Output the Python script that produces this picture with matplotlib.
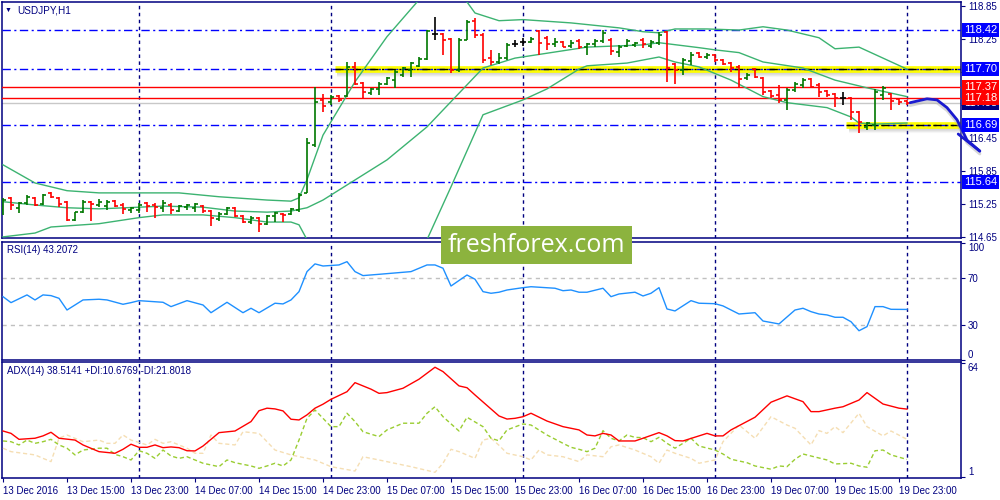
import matplotlib
matplotlib.use("Agg")
import matplotlib.pyplot as plt
from matplotlib.patches import Rectangle
import matplotlib.transforms as mtrans

plt.rcParams['font.family'] = ['Liberation Sans', 'DejaVu Sans']

## PRICE BARS (USDJPY H1, one value per bar)
opens = [115.14, 115.36, 115.18, 115.27, 115.36, 115.25, 115.45, 115.36, 115.29, 114.96,
         115.10, 115.29, 115.23, 115.21, 115.30, 115.23, 115.14, 115.14, 115.27, 115.23,
         115.18, 115.23, 115.12, 115.19, 115.18, 115.21, 115.12, 114.98, 115.07, 115.18,
         115.03, 114.92, 115.00, 114.89, 115.03, 115.07, 115.07, 115.14, 115.45, 116.32,
         117.14, 117.10, 117.21, 117.21, 117.74, 117.45, 117.27, 117.34, 117.43, 117.50,
         117.60, 117.69, 117.76, 117.89, 118.34, 118.34, 118.25, 117.69, 118.23, 118.58,
         118.32, 117.90, 117.83, 117.90, 118.16, 118.20, 118.20, 118.40, 118.27, 118.16,
         118.20, 118.12, 118.21, 118.10, 118.16, 118.21, 118.23, 118.01, 118.12, 118.14,
         118.23, 118.12, 118.18, 118.38, 117.80, 117.69, 117.85, 118.00, 117.92, 117.96,
         117.87, 117.81, 117.74, 117.54, 117.70, 117.54, 117.30, 117.23, 117.14, 117.32,
         117.41, 117.52, 117.41, 117.30, 117.25, 117.18, 117.18, 116.92, 116.65, 116.69,
         117.23, 117.25, 117.16, 117.12]
highs = [115.36, 115.38, 115.29, 115.41, 115.38, 115.43, 115.47, 115.38, 115.30, 115.10,
         115.32, 115.30, 115.34, 115.32, 115.32, 115.27, 115.19, 115.27, 115.29, 115.27,
         115.32, 115.27, 115.23, 115.25, 115.27, 115.23, 115.14, 115.10, 115.19, 115.19,
         115.05, 115.03, 115.01, 115.05, 115.10, 115.09, 115.18, 115.45, 116.45, 117.38,
         117.25, 117.23, 117.23, 117.83, 117.83, 117.47, 117.36, 117.47, 117.56, 117.69,
         117.74, 117.83, 117.92, 118.41, 118.65, 118.36, 118.27, 118.27, 118.60, 118.63,
         118.36, 118.05, 118.00, 118.18, 118.23, 118.27, 118.29, 118.41, 118.30, 118.27,
         118.21, 118.23, 118.25, 118.18, 118.25, 118.41, 118.27, 118.14, 118.25, 118.20,
         118.27, 118.23, 118.38, 118.40, 117.81, 117.90, 118.01, 118.01, 118.00, 117.98,
         117.89, 117.83, 117.78, 117.63, 117.72, 117.56, 117.32, 117.41, 117.36, 117.47,
         117.54, 117.54, 117.45, 117.32, 117.27, 117.29, 117.20, 116.94, 116.74, 117.34,
         117.40, 117.27, 117.18, 117.14]
lows = [115.05, 115.14, 115.09, 115.23, 115.21, 115.23, 115.36, 115.19, 114.94, 114.94,
        115.09, 114.94, 115.19, 115.14, 115.19, 115.07, 115.09, 115.09, 115.10, 115.00,
        115.10, 115.07, 115.10, 115.14, 115.10, 115.09, 114.85, 114.94, 115.05, 115.01,
        114.90, 114.89, 114.74, 114.87, 114.92, 114.92, 115.05, 115.10, 115.45, 116.29,
        116.92, 117.05, 117.10, 117.20, 117.41, 117.18, 117.23, 117.23, 117.41, 117.36,
        117.56, 117.56, 117.74, 117.87, 118.23, 117.96, 117.63, 117.65, 118.23, 118.27,
        117.81, 117.78, 117.80, 117.87, 118.10, 118.12, 118.18, 117.96, 118.05, 118.10,
        118.10, 118.09, 118.07, 117.96, 118.10, 118.18, 117.96, 117.92, 118.10, 118.10,
        118.09, 118.09, 118.14, 117.47, 117.43, 117.60, 117.78, 117.90, 117.89, 117.83,
        117.78, 117.65, 117.38, 117.50, 117.54, 117.23, 117.18, 117.09, 116.96, 117.29,
        117.36, 117.36, 117.20, 117.20, 117.01, 117.05, 116.78, 116.54, 116.60, 116.60,
        117.14, 116.96, 117.05, 117.05]
closes = [115.32, 115.23, 115.27, 115.38, 115.23, 115.41, 115.38, 115.25, 114.96, 115.10,
          115.29, 115.25, 115.29, 115.29, 115.21, 115.16, 115.18, 115.23, 115.21, 115.19,
          115.27, 115.14, 115.21, 115.23, 115.25, 115.12, 115.00, 115.07, 115.18, 115.03,
          114.92, 115.00, 114.89, 115.03, 115.09, 115.05, 115.16, 115.41, 116.36, 117.10,
          117.03, 117.20, 117.14, 117.74, 117.43, 117.29, 117.34, 117.43, 117.54, 117.65,
          117.72, 117.81, 117.89, 118.40, 118.34, 118.23, 117.69, 118.23, 118.56, 118.32,
          117.87, 117.83, 117.90, 118.14, 118.16, 118.20, 118.25, 118.18, 118.16, 118.20,
          118.10, 118.18, 118.10, 118.16, 118.21, 118.36, 118.03, 118.10, 118.21, 118.18,
          118.16, 118.20, 118.32, 117.72, 117.69, 117.87, 117.96, 117.92, 117.96, 117.87,
          117.80, 117.72, 117.52, 117.60, 117.56, 117.29, 117.21, 117.14, 117.32, 117.43,
          117.50, 117.38, 117.29, 117.23, 117.18, 117.18, 116.92, 116.74, 116.72, 117.29,
          117.36, 117.12, 117.10, 117.08]

## BOLLINGER BANDS (read at the bars listed)
bb_up_x = [0, 4, 8, 12, 17, 22, 27, 33, 36, 37, 38, 40, 44, 48, 52, 55, 58, 59, 62, 65,
           71, 77, 80, 82, 84, 88, 92, 95, 98, 102, 104, 107, 110, 113]
bb_up = [115.96, 115.63, 115.49, 115.45, 115.45, 115.45, 115.38, 115.32, 115.30, 115.36,
         115.69, 116.50, 117.47, 118.29, 118.96, 119.32, 118.92, 118.72, 118.58, 118.60,
         118.54, 118.45, 118.38, 118.36, 118.43, 118.43, 118.41, 118.47, 118.41, 118.27,
         118.07, 118.10, 117.90, 117.70]
bb_mid_x = [0, 4, 8, 12, 17, 20, 25, 29, 33, 36, 38, 40, 48, 53, 60, 64, 73, 80, 82, 87,
            89, 92, 95, 100, 104, 108, 113]
bb_mid = [115.29, 115.23, 115.18, 115.16, 115.19, 115.21, 115.19, 115.12, 115.10, 115.12,
          115.18, 115.32, 116.05, 116.65, 117.72, 117.90, 118.10, 118.14, 118.18, 118.09,
          118.05, 118.00, 117.83, 117.72, 117.50, 117.36, 117.20]
bb_low_x = [0, 4, 6, 12, 17, 20, 25, 29, 33, 36, 37, 38, 39, 52, 53, 56, 60, 65, 68, 72,
            73, 78, 82, 84, 87, 91, 95, 98, 103, 106, 107, 109, 113]
bb_low = [114.65, 114.72, 114.83, 114.89, 115.00, 115.05, 115.05, 115.00, 114.92, 114.92,
          114.87, 114.60, 114.32, 114.32, 114.60, 115.56, 116.87, 117.14, 117.34, 117.70,
          117.76, 117.81, 117.92, 117.83, 117.74, 117.50, 117.20, 117.09, 117.00, 116.83,
          116.72, 116.70, 116.72]

## LEVELS
blue_levels = [118.42, 117.70, 116.69, 115.64]
red_levels = [117.37, 117.18]
bid_price = 117.08
zone_prices = [117.70, 116.69]
zone_starts = [41.5, 105.4]
price_ticks = [118.85, 118.25, 117.65, 117.05, 116.45, 115.85, 115.25, 114.65]

## hand drawn forecast (bar, price)
arrow_x = [113.4, 114.6, 115.5, 116.75, 118.0, 119.25, 120.0, 120.5, 122.1]
arrow_y = [117.09, 117.13, 117.16, 117.14, 117.00, 116.78, 116.56, 116.41, 116.21]
head_x = [119.4, 122.1]
head_y = [116.52, 116.21]

## RSI(14)
rsi_x = [0, 1, 3, 4, 5, 6, 7, 8, 10, 12, 13, 15, 16, 17, 20, 21, 23, 25, 26, 28,
         30, 31, 32, 34, 35, 36, 37, 38, 39, 40, 42, 43, 44, 45, 47, 51, 53, 54, 55, 56,
         58, 59, 60, 61, 62, 63, 65, 66, 69, 70, 71, 72, 73, 75, 76, 77, 79, 80, 81, 82,
         83, 84, 86, 87, 89, 90, 92, 94, 95, 97, 99, 100, 101, 102, 103, 104, 105, 106, 107, 108,
         109, 110, 111, 113]
rsi = [54.1, 49.0, 55.6, 51.3, 55.6, 55.0, 52.7, 42.7, 51.3, 51.9,
       51.3, 47.6, 49.0, 50.7, 49.3, 45.6, 50.7, 47.0, 40.4, 49.3,
       40.4, 44.2, 40.4, 48.5, 47.9, 51.3, 58.4, 75.5, 82.1, 80.3,
       81.2, 84.0, 75.5, 72.1, 73.2, 75.5, 81.2, 81.2, 78.4, 63.2,
       72.6, 69.0, 58.4, 57.0, 57.9, 59.8, 61.8, 62.6, 61.3, 59.2,
       59.8, 57.9, 57.9, 61.3, 54.1, 56.4, 57.9, 54.7, 57.0, 61.8,
       43.6, 41.9, 50.7, 48.5, 48.1, 46.2, 39.3, 40.4, 33.3, 30.8,
       42.7, 44.2, 41.3, 39.3, 38.5, 36.5, 36.5, 32.7, 25.0, 28.5,
       45.6, 45.6, 43.3, 43.2]

## ADX(14), +DI, -DI
adx_x = [0, 1, 2, 4, 5, 6, 7, 9, 10, 12, 14, 15, 16, 17, 18, 19, 20, 21, 22, 23,
         24, 25, 27, 29, 31, 32, 33, 34, 35, 36, 37, 38, 39, 40, 41, 43, 44, 46, 47, 48,
         50, 52, 54, 55, 57, 58, 59, 62, 63, 64, 65, 66, 68, 70, 72, 73, 74, 75, 76, 77,
         79, 80, 82, 83, 84, 85, 87, 88, 89, 90, 91, 94, 96, 98, 100, 101, 102, 104, 105, 107,
         108, 110, 112, 113]
adx = [26.4, 25.1, 21.8, 22.4, 23.7, 25.7, 22.4, 21.4, 18.7, 15.0,
       14.1, 16.3, 19.1, 17.4, 17.4, 18.7, 17.2, 17.6, 17.2, 15.5,
       15.4, 18.1, 25.5, 26.4, 31.6, 37.6, 39.0, 38.6, 37.5, 32.9,
       32.5, 35.3, 39.0, 41.2, 43.9, 48.1, 53.1, 49.5, 47.2, 47.6,
       50.0, 55.0, 61.6, 59.2, 51.3, 50.3, 46.3, 34.7, 33.0, 33.4,
       34.3, 36.2, 31.9, 28.8, 27.0, 24.2, 23.7, 25.1, 24.2, 20.9,
       20.9, 22.4, 25.5, 23.7, 21.1, 20.9, 23.7, 25.1, 23.7, 23.7,
       27.0, 34.0, 42.3, 45.8, 42.6, 37.1, 37.1, 39.0, 39.8, 43.5,
       47.6, 41.3, 39.0, 38.5]
pdi_x = [0, 1, 2, 3, 4, 5, 6, 7, 8, 9, 10, 12, 13, 14, 15, 16, 17, 18, 19, 20,
         21, 22, 23, 24, 25, 27, 28, 29, 31, 32, 33, 34, 35, 36, 37, 38, 39, 40, 41, 42,
         43, 44, 45, 47, 48, 50, 52, 53, 54, 55, 57, 58, 60, 61, 62, 63, 65, 66, 68, 70,
         71, 72, 73, 74, 75, 76, 77, 78, 79, 80, 81, 82, 83, 84, 85, 86, 87, 89, 90, 91,
         93, 94, 96, 97, 98, 99, 100, 101, 103, 104, 106, 107, 108, 109, 110, 111, 113]
pdi = [20.9, 20.5, 18.7, 21.4, 19.6, 20.5, 21.8, 18.7, 16.9, 13.2,
       15.9, 16.9, 16.9, 13.5, 12.2, 10.4, 15.5, 14.1, 11.3, 15.9,
       12.6, 11.3, 12.2, 10.4, 8.6, 6.7, 10.4, 8.9, 7.1, 5.8,
       7.1, 8.6, 7.1, 10.4, 21.4, 33.4, 38.0, 33.4, 28.8, 28.8,
       36.2, 31.6, 26.0, 23.3, 27.0, 30.7, 30.7, 36.2, 39.8, 34.3,
       26.4, 34.0, 28.8, 22.4, 21.0, 27.0, 30.3, 29.7, 24.2, 19.6,
       17.4, 16.3, 15.0, 16.9, 26.6, 22.4, 20.9, 24.2, 22.9, 22.7,
       20.5, 22.9, 19.6, 16.9, 19.6, 22.4, 18.1, 15.9, 13.7, 10.8,
       8.9, 7.1, 5.3, 7.1, 6.7, 10.8, 13.7, 12.6, 10.4, 8.2,
       8.6, 7.1, 6.4, 15.5, 15.9, 13.2, 10.7]
mdi_x = [0, 1, 4, 5, 6, 7, 8, 10, 12, 13, 14, 15, 16, 18, 19, 20, 21, 23, 24, 25,
         26, 27, 29, 30, 32, 34, 36, 39, 41, 44, 45, 47, 51, 54, 55, 56, 57, 59, 60, 61,
         62, 63, 65, 66, 67, 68, 70, 72, 73, 75, 76, 77, 79, 81, 82, 83, 84, 86, 87, 89,
         90, 92, 94, 96, 98, 99, 101, 102, 103, 104, 105, 107, 108, 110, 111, 113]
mdi = [16.9, 15.0, 13.2, 11.3, 9.5, 22.4, 24.2, 20.5, 21.4, 19.6,
       19.6, 24.2, 21.4, 18.7, 21.8, 19.6, 20.5, 16.9, 14.1, 14.1,
       24.2, 19.6, 18.7, 26.0, 25.1, 15.9, 13.2, 10.4, 6.7, 4.3,
       12.2, 10.4, 6.7, 3.6, 8.6, 16.3, 15.0, 11.3, 21.4, 22.4,
       18.5, 14.1, 12.2, 10.4, 15.9, 13.2, 12.2, 9.5, 13.2, 12.2,
       17.7, 18.7, 15.9, 12.2, 8.6, 15.9, 14.1, 11.3, 8.6, 10.4,
       20.5, 29.7, 22.4, 34.3, 29.7, 27.9, 18.7, 26.6, 25.1, 28.8,
       25.5, 36.2, 28.8, 23.7, 26.4, 21.8]

time_labels = ["13 Dec 2016", "13 Dec 15:00", "13 Dec 23:00", "14 Dec 07:00", "14 Dec 15:00",
               "14 Dec 23:00", "15 Dec 07:00", "15 Dec 15:00", "15 Dec 23:00", "16 Dec 07:00",
               "16 Dec 15:00", "16 Dec 23:00", "19 Dec 07:00", "19 Dec 15:00", "19 Dec 23:00"]

NAVY = '#000080'
BB_GREEN = '#3cb371'
XMIN, XMAX = -0.125, 119.75

fig = plt.figure(figsize=(10, 5), dpi=100)
fig.patch.set_facecolor('white')
ax = fig.add_axes([0.002, 0.524, 0.959, 0.472])
ax_rsi = fig.add_axes([0.002, 0.28, 0.959, 0.236])
ax_adx = fig.add_axes([0.002, 0.044, 0.959, 0.232])

for a in (ax, ax_rsi, ax_adx):
    a.set_xlim(XMIN, XMAX)
    for s in a.spines.values():
        s.set_color(NAVY)
        s.set_linewidth(1.1)
    a.yaxis.tick_right()
    a.tick_params(axis='y', direction='out', length=3, color=NAVY, labelcolor=NAVY,
                  labelsize=7, pad=2, width=0.8)
    a.tick_params(axis='x', length=0)
    a.set_xticks([])
    # vertical grid every 24 bars
    for g in range(17, 114, 24):
        a.axvline(g, color=NAVY, lw=1, ls=(0, (2.5, 2.5)), zorder=1)

## MAIN PRICE PANEL
ax.set_ylim(114.63, 118.92)
ax.set_yticks(price_ticks)
ax.set_yticklabels(["%.2f" % p for p in price_ticks])

for lv in blue_levels:
    ax.axhline(lv, color='#0000ff', lw=1, ls=(0, (6, 2.5, 1.5, 2.5)), zorder=3)
ax.axhline(bid_price, color='#c8c8c8', lw=1, zorder=2)
for lv in red_levels:
    ax.axhline(lv, color='#ff0000', lw=1, zorder=3)

# yellow zones with a soft shadow under them
for zp, zs in zip(zone_prices, zone_starts):
    for k in range(5):
        ax.plot([zs + 0.3, XMAX], [zp - 0.06 - k * 0.018] * 2, color='#808080',
                alpha=0.22 - k * 0.04, lw=1.5, solid_capstyle='butt', zorder=1.5)
    ax.plot([zs, XMAX], [zp, zp], color='#ffff00', lw=4.8, solid_capstyle='butt', zorder=2)
    ax.plot([zs, XMAX], [zp, zp], color='#000000', lw=1, ls=(0, (6, 2.5, 1.5, 2.5)), zorder=3.1)

ax.plot(bb_up_x, bb_up, color=BB_GREEN, lw=1, zorder=4)
ax.plot(bb_mid_x, bb_mid, color=BB_GREEN, lw=1, zorder=4)
ax.plot(bb_low_x, bb_low, color=BB_GREEN, lw=1, zorder=4)

for i in range(len(opens)):
    if closes[i] > opens[i]:
        col = '#007800'
    elif closes[i] < opens[i]:
        col = '#ff0000'
    else:
        col = '#000000'
    ax.vlines(i, lows[i], highs[i], color=col, lw=1.2, zorder=5)
    ax.hlines(opens[i], i - 0.38, i, color=col, lw=1.2, zorder=5)
    ax.hlines(closes[i], i, i + 0.38, color=col, lw=1.2, zorder=5)

# blue forecast arrow
ax.plot(arrow_x, [y - 0.05 for y in arrow_y], color='#b0b0b0', lw=2.2, alpha=0.5,
        clip_on=False, zorder=9, solid_capstyle='round')
ax.plot(arrow_x, arrow_y, color='#1a1ad0', lw=2, clip_on=False, zorder=10,
        solid_capstyle='round')
ax.plot(head_x, head_y, color='#1a1ad0', lw=2, clip_on=False, zorder=10,
        solid_capstyle='round')

# price boxes on the right scale
tr = mtrans.blended_transform_factory(ax.transAxes, ax.transData)
boxes = [(bid_price, NAVY), (118.42, '#0000ff'), (117.70, '#0000ff'), (116.69, '#0000ff'),
         (115.64, '#0000ff'), (117.37, '#ff0000'), (117.18, '#ff0000')]
for p, c in boxes:
    ax.text(1.003, p, "%.2f" % p, transform=tr, color='white', fontsize=8,
            va='center', ha='left', clip_on=False, zorder=20,
            bbox=dict(boxstyle='square,pad=0.18', fc=c, ec='none'))

fig.text(0.0045, 0.979, u"\u25bc", color=NAVY, fontsize=5, va='center')
fig.text(0.017, 0.979, "USDJPY,H1", color=NAVY, fontsize=7.2, va='center')

## RSI PANEL
ax_rsi.set_ylim(0, 100.8)
ax_rsi.axhline(70, color='#c0c0c0', lw=1, ls=(0, (3, 3)), zorder=1)
ax_rsi.axhline(30, color='#c0c0c0', lw=1, ls=(0, (3, 3)), zorder=1)
ax_rsi.plot(rsi_x, rsi, color='#1e90ff', lw=1, zorder=4)
ax_rsi.set_yticks([100, 70, 30, 0])
ax_rsi.set_yticklabels(["100", "70", "30", "0"])
ax_rsi.get_yticklabels()[0].set_va('top')
ax_rsi.get_yticklabels()[3].set_va('bottom')
ax_rsi.text(0.005, 0.93, "RSI(14) 43.2072", transform=ax_rsi.transAxes, color=NAVY,
            fontsize=7, va='center')

## ADX PANEL
ax_adx.set_ylim(0.45, 64.5)
ax_adx.plot(mdi_x, mdi, color='#f5deb3', lw=1, ls=(0, (3, 2)), zorder=3)
ax_adx.plot(pdi_x, pdi, color='#9acd32', lw=1, ls=(0, (3, 2)), zorder=3)
ax_adx.plot(adx_x, adx, color='#ff0000', lw=1, zorder=4)
ax_adx.set_yticks([64, 1])
ax_adx.set_yticklabels(["64", "1"])
ax_adx.get_yticklabels()[0].set_va('top')
ax_adx.get_yticklabels()[1].set_va('bottom')
ax_adx.text(0.005, 0.92, "ADX(14) 38.5141 +DI:10.6769 -DI:21.8018", transform=ax_adx.transAxes,
            color=NAVY, fontsize=7, va='center')

ax_adx.set_xticks(range(0, 113, 8))
ax_adx.set_xticklabels(time_labels, ha='left')
ax_adx.tick_params(axis='x', length=3, color=NAVY, labelcolor=NAVY, labelsize=7, pad=3,
                   direction='out')

## watermark
fig.add_artist(Rectangle((0.441, 1 - 264 / 500.), 0.191, 38 / 500., transform=fig.transFigure,
                         facecolor='#8cb33e', edgecolor='none', zorder=5))
fig.text(0.5365, 1 - 245 / 500., "freshforex.com", color='white', fontsize=18,
         family=['Open Sans', 'DejaVu Sans'], ha='center', va='center', zorder=6)

fig.savefig("out.png", dpi=100)
